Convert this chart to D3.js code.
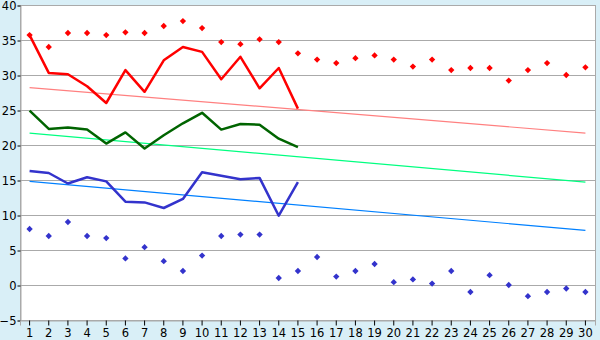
<!DOCTYPE html>
<html>
<head>
<meta charset="utf-8">
<script src="https://cdn.jsdelivr.net/npm/d3@7"></script>
<style>
  body { margin: 0; background: #d9eff7; }
  svg { display: block; }
</style>
</head>
<body>
<div id="vis-container"></div>
<script>
// categories 1..30
let days = d3.range(1, 31);
let yTicks = [-5, 0, 5, 10, 15, 20, 25, 30, 35, 40];

// line series (first 15 days)
let redLine = [35.7, 30.3, 30.1, 28.4, 26, 30.7, 27.6, 32.1, 34, 33.3, 29.4, 32.6, 28.1, 31, 25.2];
let greenLine = [24.9, 22.3, 22.5, 22.2, 20.2, 21.8, 19.5, 21.4, 23.1, 24.6, 22.2, 23, 22.9, 20.9, 19.7];
let blueLine = [16.3, 16, 14.5, 15.4, 14.8, 11.9, 11.8, 11, 12.3, 16.1, 15.6, 15.1, 15.3, 9.9, 14.7];

// point series (all 30 days)
let redPoints = [35.7, 34, 36, 36, 35.7, 36.1, 36, 37, 37.7, 36.7, 34.7, 34.4, 35.1, 34.7, 33.1,
                 32.2, 31.7, 32.4, 32.8, 32.2, 31.2, 32.2, 30.7, 31, 31, 29.2, 30.7, 31.7, 30, 31.1];
let bluePoints = [8, 7, 9, 7, 6.7, 3.8, 5.4, 3.4, 2, 4.2, 7, 7.2, 7.2, 1, 2,
                  4, 1.2, 2, 3, 0.4, 0.8, 0.2, 2, -1, 1.4, 0, -1.6, -1, -0.5, -1];

// trend lines: [value at day 1, value at day 30]
let redTrend = [28.2, 21.7];
let greenTrend = [21.7, 14.7];
let blueTrend = [14.8, 7.8];

let width = 600;
let height = 340;
let margin = { top: 5, right: 5, bottom: 20, left: 20 };

let svg = d3.select("#vis-container")
  .append("svg")
  .attr("width", width)
  .attr("height", height);

svg.append("rect")
  .attr("width", width)
  .attr("height", height)
  .attr("fill", "#d9eff7");

let x = d3.scaleBand()
  .domain(days)
  .range([margin.left, width - margin.right]);

let y = d3.scaleLinear()
  .domain([-5, 40])
  .range([height - margin.bottom, margin.top]);

let cx = d => x(d) + x.bandwidth() / 2;

// plot area
svg.append("rect")
  .attr("x", margin.left + 0.5)
  .attr("y", margin.top + 0.5)
  .attr("width", width - margin.left - margin.right)
  .attr("height", height - margin.top - margin.bottom)
  .attr("fill", "white")
  .attr("stroke", "#aaaaaa");

// gridlines
svg.append("g")
  .selectAll("line")
  .data(yTicks)
  .enter()
  .append("line")
  .attr("x1", margin.left)
  .attr("x2", width - margin.right)
  .attr("y1", d => Math.round(y(d)) + 0.5)
  .attr("y2", d => Math.round(y(d)) + 0.5)
  .attr("stroke", "#aaaaaa");

// y axis
let yAxis = svg.append("g")
  .attr("transform", `translate(${margin.left + 0.5},0.5)`)
  .call(d3.axisLeft(y).tickValues(yTicks).tickSize(3).tickPadding(1)
    .tickFormat(d => d < 0 ? "\u2212" + Math.abs(d) : d));
yAxis.select(".domain").attr("stroke", "#aaaaaa");
yAxis.selectAll(".tick line").attr("stroke", "black");
yAxis.selectAll("text")
  .attr("font-family", "DejaVu Sans")
  .attr("font-size", 11.5)
  .attr("fill", "black");

// x axis
let xAxis = svg.append("g")
  .attr("transform", `translate(0,${height - margin.bottom + 0.5})`)
  .call(d3.axisBottom(x).tickSize(5).tickPadding(3));
xAxis.select(".domain").attr("stroke", "#aaaaaa");
xAxis.selectAll(".tick line").attr("stroke", "black");
xAxis.selectAll("text")
  .attr("font-family", "DejaVu Sans")
  .attr("font-size", 11.5)
  .attr("fill", "black");

// trend lines
let trends = [
  [redTrend, "#ff8080"],
  [greenTrend, "#00ff80"],
  [blueTrend, "#0080ff"]
];
svg.append("g")
  .selectAll("line")
  .data(trends)
  .enter()
  .append("line")
  .attr("x1", cx(days[0]))
  .attr("x2", cx(days[days.length - 1]))
  .attr("y1", d => y(d[0][0]))
  .attr("y2", d => y(d[0][1]))
  .attr("stroke", d => d[1])
  .attr("stroke-width", 1.2);

// series lines
let line = d3.line()
  .x((d, i) => cx(days[i]))
  .y(d => y(d));

let lines = [
  [redLine, "#ff0000"],
  [greenLine, "#006400"],
  [blueLine, "#3333cc"]
];
svg.append("g")
  .selectAll("path")
  .data(lines)
  .enter()
  .append("path")
  .attr("d", d => line(d[0]))
  .attr("fill", "none")
  .attr("stroke", d => d[1])
  .attr("stroke-width", 2.5)
  .attr("stroke-linejoin", "round");

// point series (square turned 45 degrees)
let marker = d3.symbol().type(d3.symbolSquare).size(20);
let points = [
  [redPoints, "#ff0000"],
  [bluePoints, "#3333cc"]
];
points.forEach(function (p) {
  svg.append("g")
    .selectAll("path")
    .data(p[0])
    .enter()
    .append("path")
    .attr("d", marker)
    .attr("transform", (d, i) => `translate(${cx(days[i])},${y(d)}) rotate(45)`)
    .attr("fill", p[1]);
});
</script>
</body>
</html>
